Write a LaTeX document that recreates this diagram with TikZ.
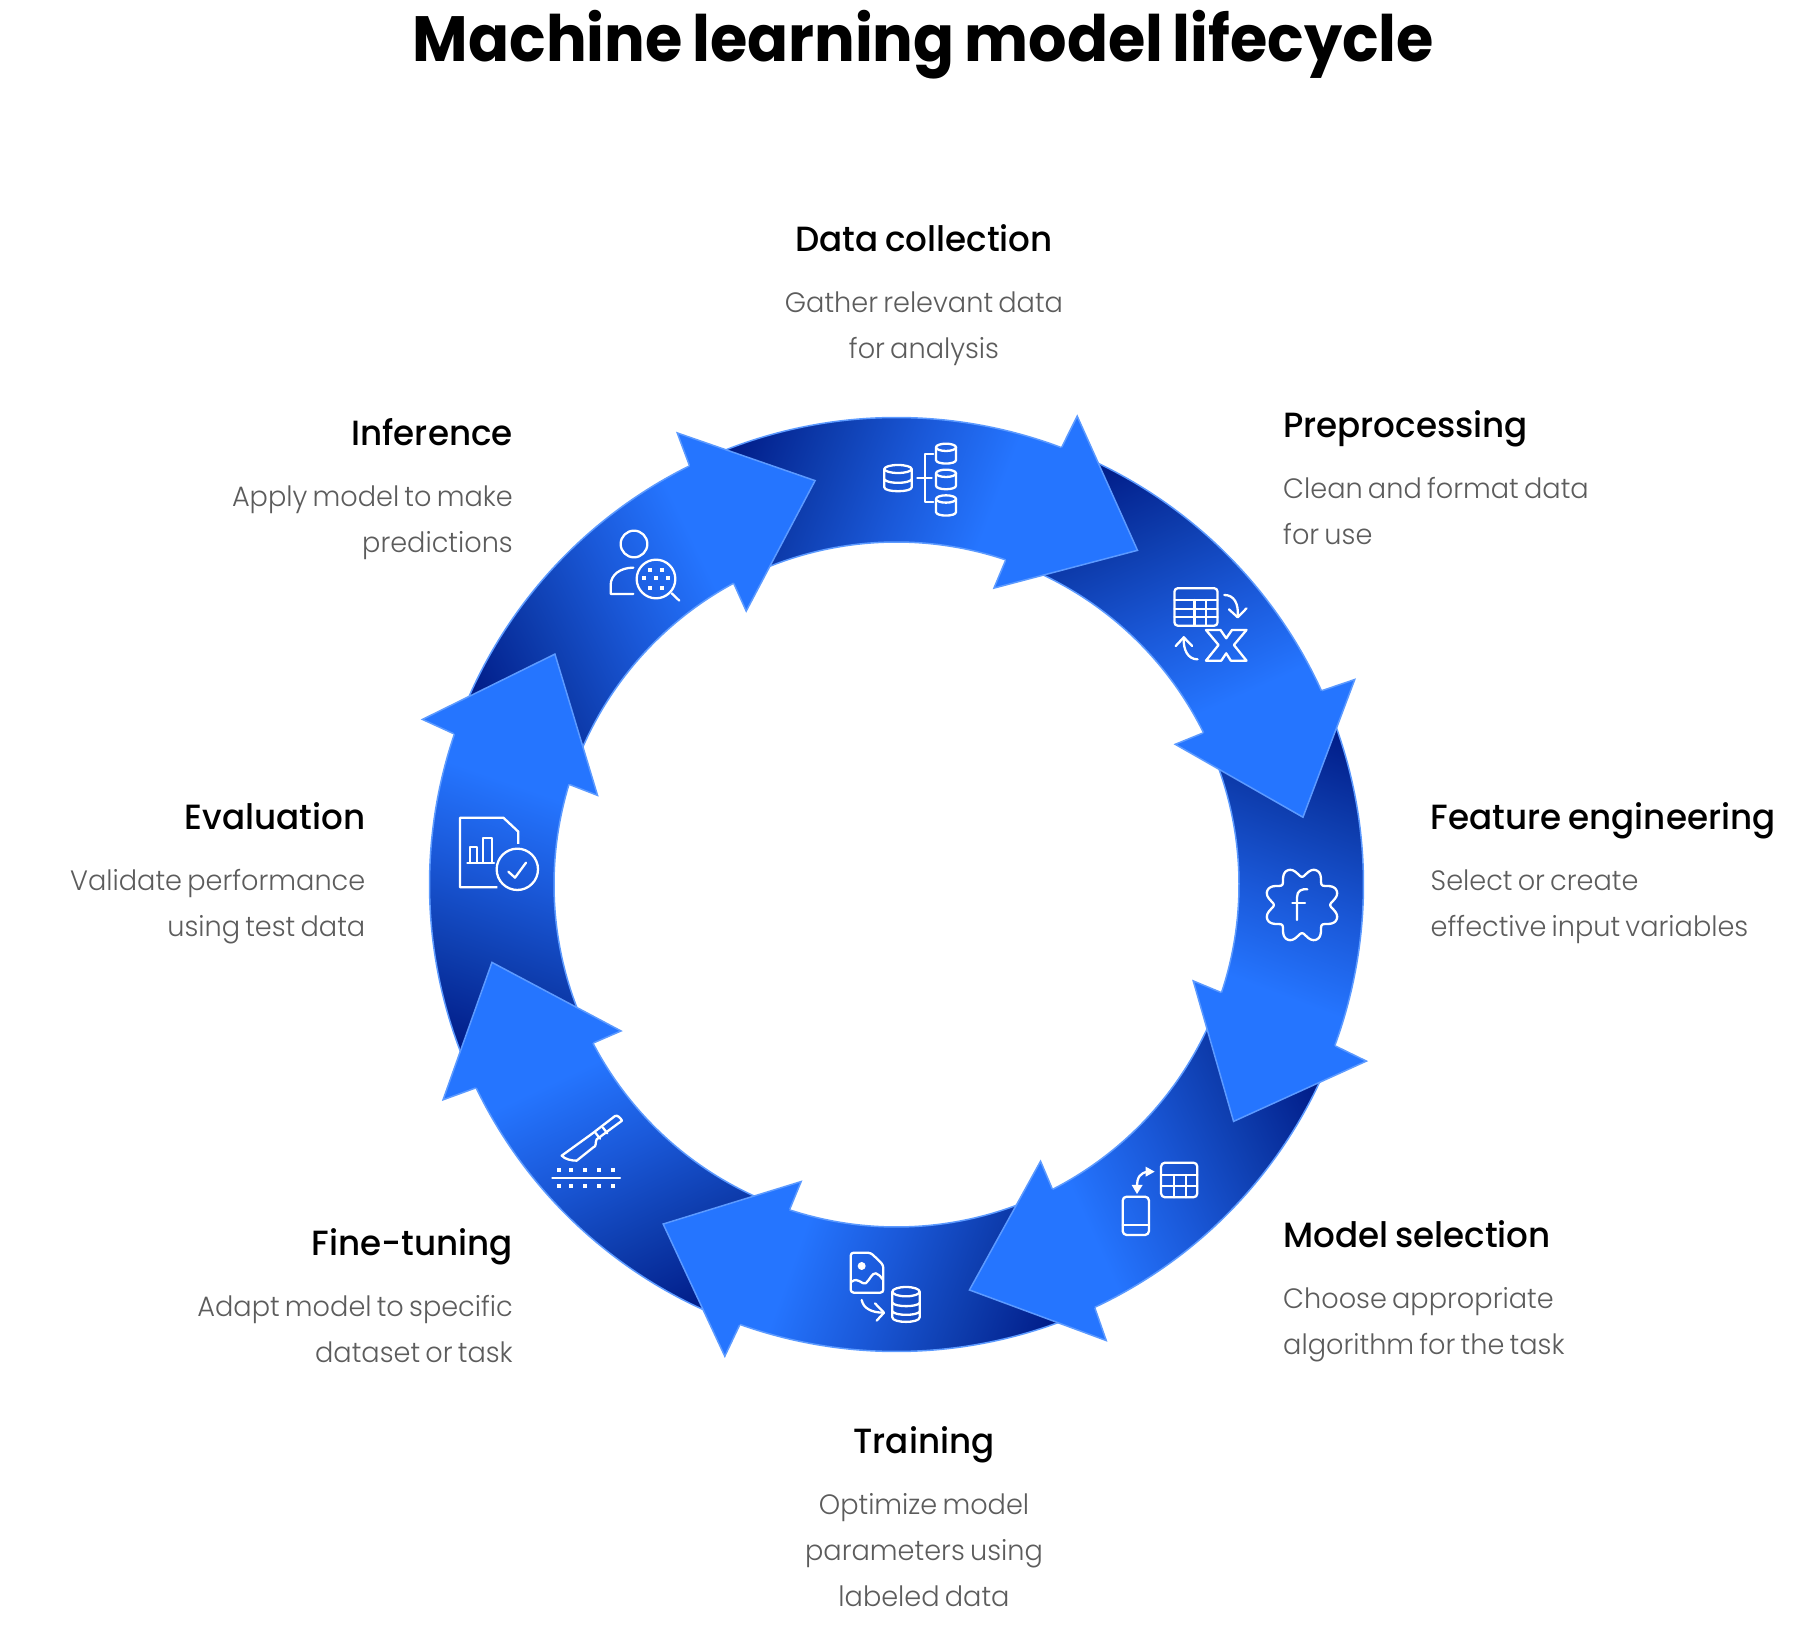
\documentclass[tikz,border=0pt]{standalone}
\usepackage{fontspec}
\usetikzlibrary{calc}
\newfontfamily\titlefont{Poppins}[FakeStretch=0.945,WordSpace=0.75]
\newfontfamily\headfont{Poppins Medium}[FakeStretch=0.975,WordSpace=0.8]
\newfontfamily\descfont{Poppins Light}[FakeStretch=0.97,WordSpace=0.7]
\definecolor{fadeA}{HTML}{001A85}
\definecolor{fadeB}{HTML}{0E3DAE}
\definecolor{fadeC}{HTML}{1A58D8}
\definecolor{fadeD}{HTML}{2575FF}
\definecolor{ringedge}{HTML}{5C9AFF}
\definecolor{bodygrey}{HTML}{5C5C5C}
\pgfdeclarehorizontalshading{ringfade}{1400bp}{color(0bp)=(fadeA); color(700bp)=(fadeA); color(795bp)=(fadeB); color(880bp)=(fadeC); color(972bp)=(fadeD); color(1400bp)=(fadeD)}
\tikzset{
  ringline/.style={draw=ringedge,line width=1.5pt,line join=miter},
  icon/.style={draw=white,line width=2.3pt,line cap=round,line join=round},
  iconfill/.style={fill=white},
  headtxt/.style={inner sep=0pt,font=\headfont\fontsize{35}{44}\selectfont,text=black},
  desctxt/.style={inner sep=0pt,font=\descfont\fontsize{28}{46}\selectfont,text=bodygrey},
  px/.style={shift={(#1)},x=0.33333pt,y=-0.33333pt}
}
\newcommand{\cyl}[5]{% cx top rx ry bottom
  \draw[icon] (#1,#2) ellipse [x radius=#3,y radius=#4];
  \draw[icon] (#1-#3,#2) -- (#1-#3,#5) .. controls (#1-#3,#5+#4*1.3) and (#1+#3,#5+#4*1.3) .. (#1+#3,#5) -- (#1+#3,#2);
}
\begin{document}
\begin{tikzpicture}[x=1pt,y=1pt]
\useasboundingbox (0,0) rectangle (1796,1626);
% ---------- ring
\begin{scope}[shift={(896.5pt,741.5pt)}]
\foreach \pb/\pc/\t/\b/\c in {
  -244.1/-241.2/-305.8/-291.1/-288.2,
  68.9/71.8/9.4/24.1/26.7,
  24.1/26.7/-35.1/-20.6/-18,
  -20.6/-18/-79.8/-65.3/-62.5,
  -65.3/-62.5/-124.5/-110/-107.8,
  -110/-107.8/-169.1/-154.6/-152,
  -154.6/-152/-214/-199.2/-196.6,
  -199.2/-196.6/-258.6/-244.1/-241.2}{
  \pgfmathsetmacro{\ba}{\b-1}
  \pgfmathsetmacro{\ca}{\c-1}
  \pgfmathsetmacro{\sa}{\pb-4}
  \pgfmathsetmacro{\da}{\b-90}
  \pgfmathsetmacro{\pbb}{\pb-2}
  \pgfmathsetmacro{\pcc}{\pc-2}
  \begin{scope}
    \clip (\pbb:467) arc[start angle=\pbb,end angle=\ba,radius=467] -- (\ca:342.5) arc[start angle=\ca,end angle=\pcc,radius=342.5] -- cycle;
    \begin{scope}[shift={(\sa:467)},rotate=\da]
      \pgflowlevelsynccm
      \pgftext{\pgfuseshading{ringfade}}
    \end{scope}
  \end{scope}
  \draw[ringline] (\pbb:467) arc[start angle=\pbb,end angle=\ba,radius=467];
  \draw[ringline] (\ca:342.5) arc[start angle=\ca,end angle=\pcc,radius=342.5];
}
\foreach \t/\b/\c in {
  -305.8/-291.1/-288.2,
  9.4/24.1/26.7,
  -35.1/-20.6/-18,
  -79.8/-65.3/-62.5,
  -124.5/-110/-107.8,
  -169.1/-154.6/-152,
  -214/-199.2/-196.6,
  -258.6/-244.1/-241.2}{
  \pgfmathsetmacro{\bn}{\b+0.4}
  \pgfmathsetmacro{\cn}{\c-0.4}
  \fill[fadeD] (\bn:467.5) -- (\b:502) -- (\t:412) -- (\c:312) -- (\cn:342) -- cycle;
  \draw[ringline] (\bn:467.5) -- (\b:502) -- (\t:412) -- (\c:312) -- (\cn:342);
}
\end{scope}
% ---------- icons
% data collection
\begin{scope}[px={870pt,1196pt}]
  \cyl{84}{117}{41}{12}{172}
  \draw[icon] (43,148) .. controls (50,162) and (118,162) .. (125,148);
  \draw[icon] (142,145) -- (185,145);
  \draw[icon] (190,72) -- (165,72) -- (165,215) -- (190,215);
  \cyl{228}{52}{30}{11}{90}
  \cyl{228}{130}{30}{11}{167}
  \cyl{228}{207}{30}{11}{246}
\end{scope}
% preprocessing
\begin{scope}[shift={(700pt,1226pt)},x=0.3827pt,y=-0.33333pt]
  \draw[icon,rounded corners=3pt] (1240,565) rectangle (1352,677);
  \draw[icon] (1240,600) -- (1352,600) (1240,627) -- (1352,627) (1240,652) -- (1352,652) (1292,600) -- (1292,677) (1322,600) -- (1322,677);
  \draw[icon] (1370,585) .. controls (1395,585) and (1408,610) .. (1405,650);
  \draw[icon] (1382,628) -- (1405,652) -- (1428,625);
  \draw[icon] (1300,778) .. controls (1275,778) and (1262,750) .. (1264,712);
  \draw[icon] (1243,738) -- (1264,712) -- (1286,738);
  \draw[icon] (1322,690) -- (1360,690) -- (1375,715) -- (1390,690) -- (1428,690) -- (1395,735) -- (1428,782) -- (1387,782) -- (1375,760) -- (1362,782) -- (1322,782) -- (1355,735) -- cycle;
\end{scope}
% feature engineering
\begin{scope}[px={1150pt,986pt}]
  \draw[icon,smooth,samples=160,domain=0:360,variable=\q] plot ({456+(100-14*cos(8*\q)-1.5*cos(16*\q))*cos(\q)},{795+(100-14*cos(8*\q)-1.5*cos(16*\q))*sin(\q)}) -- cycle;
  \draw[icon] (441,840) -- (441,772) .. controls (441,752) and (455,746) .. (472,748);
  \draw[icon] (427,790) -- (465,790);
\end{scope}
% model selection
\begin{scope}[px={1000pt,506pt}]
  \draw[icon,rounded corners=4pt] (483,128) rectangle (592,232);
  \draw[icon] (483,165) -- (592,165) (483,197) -- (592,197) (523,165) -- (523,232) (557,165) -- (557,232);
  \draw[icon,rounded corners=4pt] (368,230) rectangle (447,345);
  \draw[icon] (368,315) -- (447,315);
  \draw[icon] (411,200) .. controls (411,172) and (420,158) .. (445,155);
  \fill[iconfill] (395,195) -- (428,195) -- (411,222) -- cycle;
  \fill[iconfill] (437,140) -- (437,170) -- (464,155) -- cycle;
\end{scope}
% training
\begin{scope}[px={800pt,406pt}]
  \draw[icon,rounded corners=3pt] (212,98) -- (152,98) -- (152,218) -- (250,218) -- (250,135) -- cycle;
  \fill[iconfill] (185,138) circle [radius=12];
  \draw[icon] (155,185) .. controls (175,170) and (185,195) .. (197,190) .. controls (210,180) and (215,158) .. (228,160) .. controls (238,162) and (242,172) .. (248,178);
  \draw[icon] (185,240) .. controls (190,265) and (215,278) .. (250,278);
  \draw[icon] (225,250) -- (252,278) -- (230,302);
  \cyl{318}{215}{41}{14}{292}
  \draw[icon] (277,248) .. controls (285,262) and (352,262) .. (360,248);
  \draw[icon] (277,274) .. controls (285,288) and (352,288) .. (360,274);
\end{scope}
% fine-tuning
\begin{scope}[px={530pt,536pt}]
  \draw[icon] (255,78) .. controls (262,74) and (272,84) .. (276,92) -- (200,148) .. controls (195,158) and (200,170) .. (190,172) -- (140,212) .. controls (125,212) and (105,208) .. (95,197) -- (185,132) -- cycle;
  \draw[icon] (196,128) -- (210,146) (218,112) -- (232,130);
  \draw[icon] (67,264) -- (270,264);
  \foreach \dx in {87,122,164,207,249}{
    \fill[iconfill] (\dx-6,234) rectangle (\dx+6,246);
    \fill[iconfill] (\dx-6,281) rectangle (\dx+6,293);
  }
\end{scope}
% evaluation
\begin{scope}[px={440pt,836pt}]
  \draw[icon,line cap=butt] (235,162) -- (235,125) -- (190,83) -- (60,83) -- (60,292) -- (172,292);
  \draw[icon] (90,172) rectangle (110,218) (130,145) rectangle (155,218);
  \draw[icon] (82,218) -- (162,218);
  \draw[icon] (232,238) circle [radius=62];
  \draw[icon] (205,245) -- (225,263) -- (258,218);
\end{scope}
% inference
\begin{scope}[px={590pt,1116pt}]
  \draw[icon] (132,102) circle [radius=40];
  \draw[icon] (130,173) .. controls (90,173) and (62,195) .. (62,225) -- (62,252) -- (130,252);
  \draw[icon] (198,207) circle [radius=58];
  \draw[icon] (245,250) -- (268,272);
  \foreach \dx/\dy in {180/180,216/180,162/203,198/203,234/203,180/233,216/233}{
    \fill[iconfill] (\dx-6,\dy-6) rectangle (\dx+6,\dy+6);
  }
\end{scope}
% ---------- texts
\node[inner sep=0pt,anchor=base,font=\titlefont\bfseries\fontsize{64}{70}\selectfont] (title) at (923.5,1564) {Machine learning model lifecycle};

\node[headtxt,anchor=base] (h1) at (924,1374) {Data collection};
\node[desctxt,anchor=base,align=center] (d1) at (924,1267) {Gather relevant data\\for analysis};
\node[headtxt,anchor=base west] (h2) at (1283,1188.5) {Preprocessing};
\node[desctxt,anchor=base west,align=left] (d2) at (1283,1081.5) {Clean and format data\\for use};
\node[headtxt,anchor=base west] (h3) at (1430.5,796.5) {Feature engineering};
\node[desctxt,anchor=base west,align=left] (d3) at (1430.5,689.5) {Select or create\\effective input variables};
\node[headtxt,anchor=base west] (h4) at (1283,378.5) {Model selection};
\node[desctxt,anchor=base west,align=left] (d4) at (1283,271.5) {Choose appropriate\\algorithm for the task};
\node[headtxt,anchor=base] (h5) at (924,172.5) {Training};
\node[desctxt,anchor=base,align=center] (d5) at (924,19.5) {Optimize model\\parameters using\\labeled data};
\node[headtxt,anchor=base east] (h6) at (513,370.5) {Fine-tuning};
\node[desctxt,anchor=base east,align=right] (d6) at (513,263.5) {Adapt model to specific\\dataset or task};
\node[headtxt,anchor=base east] (h7) at (365.5,796.5) {Evaluation};
\node[desctxt,anchor=base east,align=right] (d7) at (365.5,689.5) {Validate performance\\using test data};
\node[headtxt,anchor=base east] (h8) at (513,1180.5) {Inference};
\node[desctxt,anchor=base east,align=right] (d8) at (513,1073.5) {Apply model to make\\predictions};
\end{tikzpicture}
\end{document}
